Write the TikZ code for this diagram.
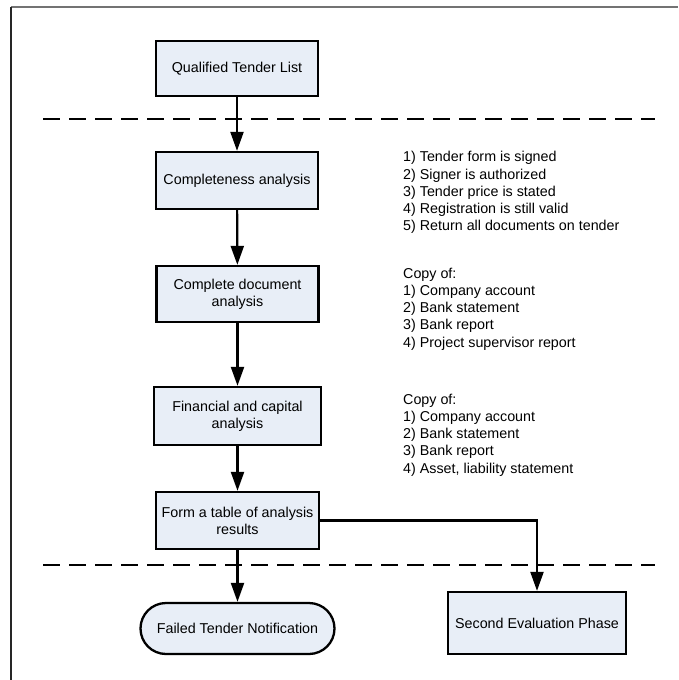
\documentclass[tikz,border=0pt]{standalone}
\usepackage{fontspec}
\setmainfont{Liberation Sans}
\usetikzlibrary{arrows.meta,shapes.misc}
\definecolor{boxfill}{HTML}{E8EEF7}
\begin{document}
\begin{tikzpicture}[x=1pt,y=-1pt,
  every node/.style={font=\fontsize{14.3}{17.2}\selectfont},
  procbox/.style={draw=black,line width=2.3pt,fill=boxfill,align=center,inner sep=2pt},
  termbox/.style={rounded rectangle,draw=black,line width=2.3pt,fill=boxfill,align=center,inner sep=2pt},
  notes/.style={anchor=west,align=left,inner sep=0pt},
  flow/.style={draw=black,line width=2.2pt,-{Triangle[length=19pt,width=13pt]}},
  sepline/.style={draw=black,line width=2.2pt,dash pattern=on 17pt off 9pt},
  frameline/.style={line width=1.4pt}]
\useasboundingbox (0,0) rectangle (678,680);
% frame
\draw[frameline,draw=black!55] (11,7) -- (678,7);
\draw[frameline,draw=black!85] (11,7) -- (11,680);
% separators
\coordinate (s1a) at (43,119);
\coordinate (s1b) at (655,119);
\coordinate (s2a) at (43,565);
\coordinate (s2b) at (655,565);
\draw[sepline] (s1a) -- (s1b);
\draw[sepline] (s2a) -- (s2b);
% boxes
\node[procbox,minimum width=162pt,minimum height=55pt] (qtl) at (237,68.5) {Qualified Tender List};
\node[procbox,minimum width=162pt,minimum height=57pt] (comp) at (237,180.5) {Completeness analysis};
\node[procbox,minimum width=162pt,minimum height=56pt] (cdoc) at (237.5,294) {Complete document\\analysis};
\node[procbox,minimum width=167pt,minimum height=58pt] (fin) at (237.5,416) {Financial and capital\\analysis};
\node[procbox,minimum width=163pt,minimum height=57pt] (form) at (237.5,520.5) {Form a table of analysis\\results};
\node[termbox,minimum width=198pt,minimum height=51pt] (fail) at (237.5,628.5) {Failed Tender Notification};
\node[procbox,minimum width=178pt,minimum height=62pt] (second) at (537,623) {Second Evaluation Phase};
% notes
\node[notes] (n1) at (403,192.5) {1) Tender form is signed\\2) Signer is authorized\\3) Tender price is stated\\4) Registration is still valid\\5) Return all documents on tender};
\node[notes] (n2) at (403,309) {Copy of:\\1) Company account\\2) Bank statement\\3) Bank report\\4) Project supervisor report};
\node[notes] (n3) at (403,435) {Copy of:\\1) Company account\\2) Bank statement\\3) Bank report\\4) Asset, liability statement};
% connectors
\draw[flow] (qtl) -- (comp);
\draw[flow] (comp) -- (cdoc);
\draw[flow] (cdoc) -- (fin);
\draw[flow] (fin) -- (form);
\draw[flow] (form) -- (fail);
\draw[flow] (form.east) -- (form.east -| second.north) -- (second.north);
\end{tikzpicture}
\end{document}
